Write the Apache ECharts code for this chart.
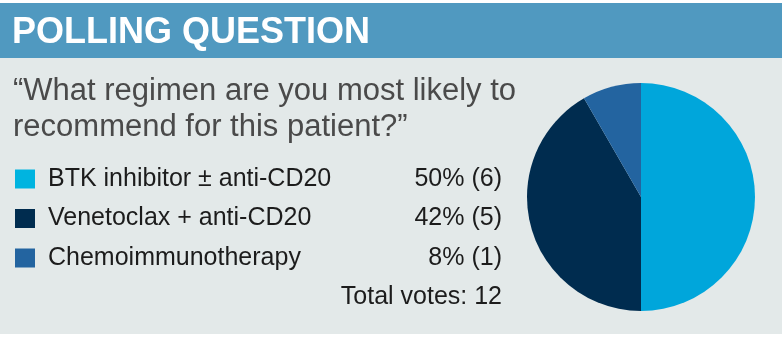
<!DOCTYPE html>
<html>
<head>
<meta charset="utf-8">
<script src="https://cdn.jsdelivr.net/npm/echarts@6/dist/echarts.min.js"></script>
<style>
html,body{margin:0;padding:0;background:#ffffff;}
#chart{width:782px;height:338px;}
</style>
</head>
<body>
<div id="chart"></div>
<script>
// ---- data ----
var headerText = 'POLLING QUESTION';
var questionLines = ['\u201CWhat regimen are you most likely to', 'recommend for this patient?\u201D'];
var categories = ['BTK inhibitor \u00B1 anti-CD20', 'Venetoclax + anti-CD20', 'Chemoimmunotherapy'];
var votes = [6, 5, 1];
var percents = [50, 42, 8];
var totalVotes = 12;

// ---- styles ----
var colors = ['#00a6db', '#002c4f', '#2364a0'];
var legendColors = ['#00b4e0', '#002c4f', '#2364a0'];
var font = '"Liberation Sans", Arial, Helvetica, sans-serif';

var chart = echarts.init(document.getElementById('chart'), null, {renderer: 'canvas'});

var graphics = [
  {type: 'rect', left: 0, top: 58, shape: {width: 782, height: 276}, style: {fill: '#e3e9e9'}, z: -10},
  {type: 'rect', left: 0, top: 3, shape: {width: 782, height: 55}, style: {fill: '#5099c0'}, z: -9},
  {type: 'text', x: 12, y: 33, style: {text: headerText, fill: '#ffffff', font: 'bold 36px ' + font, verticalAlign: 'middle', align: 'left'}}
];
questionLines.forEach(function (line, i) {
  graphics.push({type: 'text', x: 13, y: 91 + i * 36, style: {text: line, fill: '#4a4a4a', font: '31px ' + font, verticalAlign: 'middle', align: 'left'}});
});
categories.forEach(function (name, i) {
  var cy = 179 + i * 39.5;
  graphics.push({type: 'rect', x: 15, y: cy - 9.5, shape: {width: 20, height: 19}, style: {fill: legendColors[i]}});
  graphics.push({type: 'text', x: 48, y: cy, style: {text: name, fill: '#1c1c1c', font: '25px ' + font, verticalAlign: 'middle', align: 'left'}});
  graphics.push({type: 'text', x: 502, y: cy, style: {text: percents[i] + '% (' + votes[i] + ')', fill: '#1c1c1c', font: '25px ' + font, verticalAlign: 'middle', align: 'right'}});
});
graphics.push({type: 'text', x: 502, y: 179 + 3 * 39.5, style: {text: 'Total votes: ' + totalVotes, fill: '#1c1c1c', font: '25px ' + font, verticalAlign: 'middle', align: 'right'}});

chart.setOption({
  animation: false,
  graphic: graphics,
  series: [{
    type: 'pie',
    center: [641, 197],
    radius: [0, 114],
    startAngle: 90,
    clockwise: true,
    label: {show: false},
    labelLine: {show: false},
    emphasis: {disabled: true},
    itemStyle: {borderWidth: 0},
    data: categories.map(function (c, i) {
      return {name: c, value: votes[i], itemStyle: {color: colors[i]}};
    })
  }]
});
</script>
</body>
</html>
